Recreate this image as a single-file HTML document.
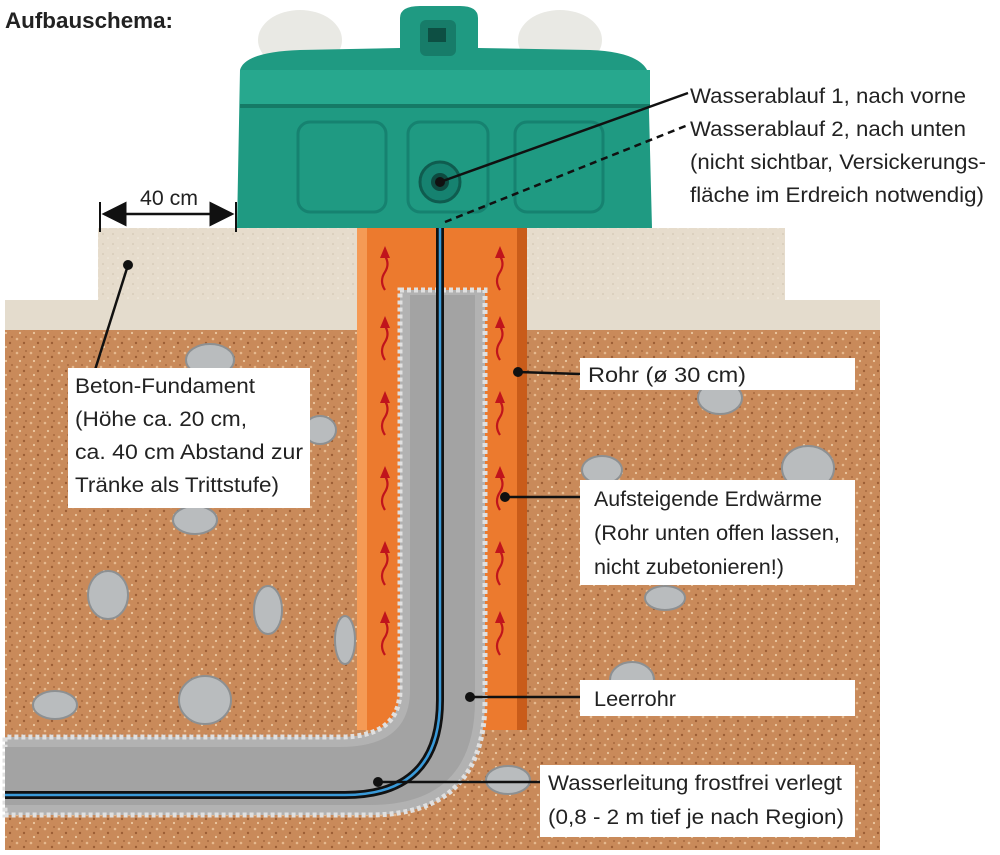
<!DOCTYPE html>
<html><head><meta charset="utf-8"><style>
html,body{margin:0;padding:0;background:#fff}
svg{display:block}
text{font-family:"Liberation Sans Narrow","Liberation Sans",sans-serif;font-size:21px;fill:#222}
</style></head><body>
<svg width="1000" height="855" viewBox="0 0 1000 855" xmlns="http://www.w3.org/2000/svg">
<defs>
<pattern id="soil" width="14" height="14" patternUnits="userSpaceOnUse">
<rect width="14" height="14" fill="#c98a5a"/>
<circle cx="3" cy="3" r="1.3" fill="#e6b98e"/><circle cx="10" cy="7" r="1.2" fill="#9c5e35"/>
<circle cx="6" cy="11" r="1.1" fill="#ecc9a2"/><circle cx="12" cy="1" r="1" fill="#a86a40"/>
</pattern>
<pattern id="conc" width="10" height="10" patternUnits="userSpaceOnUse">
<rect width="10" height="10" fill="#e6dccc"/><circle cx="3" cy="4" r="0.9" fill="#d3c8b5"/><circle cx="8" cy="8" r="0.8" fill="#f3ece0"/>
</pattern>
<marker id="da" markerWidth="10" markerHeight="10" refX="9" refY="5" orient="auto"><path d="M0,0 L10,5 L0,10 z" fill="#111"/></marker>
<marker id="db" markerWidth="10" markerHeight="10" refX="1" refY="5" orient="auto"><path d="M10,0 L0,5 L10,10 z" fill="#111"/></marker>
<g id="ra">
<path d="M0,40 q-6,-9 0,-18 q5,-8 0,-16" fill="none" stroke="#c0141c" stroke-width="2.2"/>
<polygon points="-5,8 5,8 0,-4" fill="#c0141c"/>
</g>
</defs>

<text x="5" y="28" style="font-weight:bold;font-size:22px" textLength="168" lengthAdjust="spacingAndGlyphs">Aufbauschema:</text>

<!-- soil -->
<rect x="5" y="300" width="875" height="550" fill="url(#soil)"/>
<rect x="5" y="300" width="875" height="30" fill="#e4dccd"/>
<!-- concrete -->
<rect x="98" y="228" width="687" height="72" fill="url(#conc)"/>

<!-- rocks -->
<g fill="#b9bcbe" stroke="#8d9092" stroke-width="2">
<ellipse cx="210" cy="360" rx="24" ry="16"/>
<ellipse cx="320" cy="430" rx="16" ry="14"/>
<ellipse cx="195" cy="520" rx="22" ry="14"/>
<ellipse cx="108" cy="595" rx="20" ry="24"/>
<ellipse cx="268" cy="610" rx="14" ry="24"/>
<ellipse cx="345" cy="640" rx="10" ry="24"/>
<ellipse cx="55" cy="705" rx="22" ry="14"/>
<ellipse cx="205" cy="700" rx="26" ry="24"/>
<ellipse cx="312" cy="768" rx="18" ry="12"/>
<ellipse cx="602" cy="470" rx="20" ry="14"/>
<ellipse cx="808" cy="468" rx="26" ry="22"/>
<ellipse cx="665" cy="598" rx="20" ry="12"/>
<ellipse cx="632" cy="680" rx="22" ry="18"/>
<ellipse cx="508" cy="780" rx="22" ry="14"/>
<ellipse cx="720" cy="398" rx="22" ry="16"/>
</g>

<!-- orange pipe -->
<rect x="357" y="228" width="170" height="502" fill="#ec7a2e"/>
<rect x="357" y="228" width="10" height="502" fill="#f59a55"/>
<rect x="517" y="228" width="10" height="502" fill="#c95c1a"/>

<!-- red arrows -->
<use href="#ra" x="385" y="250"/><use href="#ra" x="385" y="320"/><use href="#ra" x="385" y="395"/>
<use href="#ra" x="385" y="470"/><use href="#ra" x="385" y="545"/><use href="#ra" x="385" y="615"/>
<use href="#ra" x="500" y="250"/><use href="#ra" x="500" y="320"/><use href="#ra" x="500" y="395"/>
<use href="#ra" x="500" y="470"/><use href="#ra" x="500" y="545"/><use href="#ra" x="500" y="615"/>

<!-- grey conduit -->
<path d="M400,290 L485,290 L485,700 Q485,815 370,815 L5,815 L5,737 L340,737 Q400,737 400,690 Z" fill="#b2b2b2" stroke="#e0e0e0" stroke-width="5" stroke-dasharray="4 3"/>
<path d="M410,295 L475,295 L475,700 Q475,805 370,805 L5,805 L5,747 L340,747 Q410,747 410,690 Z" fill="#a3a3a3"/>

<!-- water pipe -->
<path d="M440,225 L440,700 Q440,795 345,795 L5,795" fill="none" stroke="#111" stroke-width="8"/>
<path d="M440,225 L440,700 Q440,795 345,795 L5,795" fill="none" stroke="#3a9ad9" stroke-width="2.5"/>

<!-- trough -->
<ellipse cx="300" cy="40" rx="42" ry="30" fill="#e9e9e4"/>
<ellipse cx="560" cy="40" rx="42" ry="30" fill="#e9e9e4"/>
<path d="M240,70 Q245,52 300,50 L400,48 L400,18 Q400,6 420,6 L460,6 Q478,6 478,18 L478,48 L590,50 Q640,52 648,72 L652,228 L237,228 Z" fill="#1f9a82"/>
<rect x="240" y="70" width="410" height="35" fill="#27a88e"/>
<rect x="240" y="104" width="410" height="4" fill="#157a66"/>
<rect x="298" y="122" width="88" height="90" rx="12" fill="none" stroke="#168270" stroke-width="3"/>
<rect x="408" y="122" width="80" height="90" rx="12" fill="none" stroke="#168270" stroke-width="3"/>
<rect x="515" y="122" width="88" height="90" rx="12" fill="none" stroke="#168270" stroke-width="3"/>
<rect x="420" y="20" width="36" height="36" rx="6" fill="#177c69"/>
<rect x="428" y="28" width="18" height="14" fill="#0d4f43"/>
<circle cx="440" cy="182" r="20" fill="#168270" stroke="#0f5c4f" stroke-width="3"/>
<circle cx="440" cy="182" r="9" fill="#0d4a40"/>

<!-- 40 cm dimension -->
<line x1="100" y1="202" x2="100" y2="232" stroke="#111" stroke-width="2"/>
<line x1="236" y1="202" x2="236" y2="232" stroke="#111" stroke-width="2"/>
<line x1="104" y1="214" x2="232" y2="214" stroke="#111" stroke-width="2.5" marker-start="url(#db)" marker-end="url(#da)"/>
<text x="140" y="205" textLength="58" lengthAdjust="spacingAndGlyphs">40 cm</text>

<!-- leader lines -->
<g stroke="#111" stroke-width="2.5" fill="none">
<line x1="440" y1="182" x2="688" y2="93"/>
<line x1="445" y1="222" x2="688" y2="125" stroke-dasharray="7 5"/>
<line x1="128" y1="265" x2="95" y2="370"/>
<line x1="518" y1="372" x2="580" y2="374"/>
<line x1="505" y1="497" x2="580" y2="497"/>
<line x1="470" y1="697" x2="580" y2="697"/>
<line x1="378" y1="782" x2="540" y2="782"/>
</g>
<g fill="#111">
<circle cx="440" cy="182" r="5"/><circle cx="128" cy="265" r="5"/><circle cx="518" cy="372" r="5"/>
<circle cx="505" cy="497" r="5"/><circle cx="470" cy="697" r="5"/><circle cx="378" cy="782" r="5"/>
</g>

<!-- label boxes -->
<g fill="#fff">
<rect x="68" y="368" width="242" height="140"/>
<rect x="580" y="358" width="275" height="32"/>
<rect x="580" y="480" width="275" height="105"/>
<rect x="580" y="680" width="275" height="36"/>
<rect x="540" y="765" width="315" height="72"/>
</g>

<text x="690" y="103" textLength="276" lengthAdjust="spacingAndGlyphs">Wasserablauf 1, nach vorne</text>
<text x="690" y="136" textLength="276" lengthAdjust="spacingAndGlyphs">Wasserablauf 2, nach unten</text>
<text x="690" y="169" textLength="296" lengthAdjust="spacingAndGlyphs">(nicht sichtbar, Versickerungs-</text>
<text x="690" y="202" textLength="294" lengthAdjust="spacingAndGlyphs">fläche im Erdreich notwendig)</text>

<text x="75" y="393" textLength="180" lengthAdjust="spacingAndGlyphs">Beton-Fundament</text>
<text x="75" y="426" textLength="172" lengthAdjust="spacingAndGlyphs">(Höhe ca. 20 cm,</text>
<text x="75" y="459" textLength="228" lengthAdjust="spacingAndGlyphs">ca. 40 cm Abstand zur</text>
<text x="75" y="492" textLength="204" lengthAdjust="spacingAndGlyphs">Tränke als Trittstufe)</text>

<text x="588" y="382" textLength="158" lengthAdjust="spacingAndGlyphs">Rohr (ø 30 cm)</text>
<text x="594" y="506" textLength="228" lengthAdjust="spacingAndGlyphs">Aufsteigende Erdwärme</text>
<text x="594" y="540" textLength="246" lengthAdjust="spacingAndGlyphs">(Rohr unten offen lassen,</text>
<text x="594" y="574" textLength="190" lengthAdjust="spacingAndGlyphs">nicht zubetonieren!)</text>
<text x="594" y="706" textLength="82" lengthAdjust="spacingAndGlyphs">Leerrohr</text>
<text x="548" y="790" textLength="294" lengthAdjust="spacingAndGlyphs">Wasserleitung frostfrei verlegt</text>
<text x="548" y="824" textLength="296" lengthAdjust="spacingAndGlyphs">(0,8 - 2 m tief je nach Region)</text>
</svg>
</body></html>
